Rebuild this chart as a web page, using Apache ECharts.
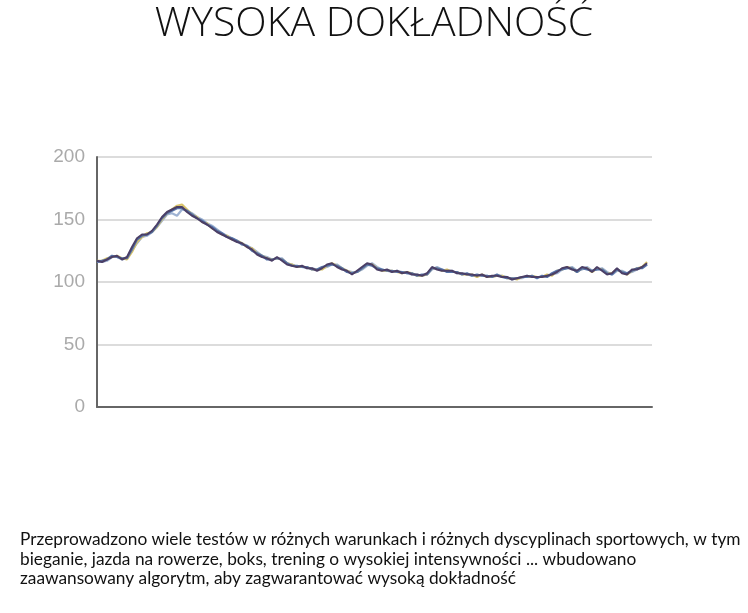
<!DOCTYPE html>
<html><head><meta charset="utf-8">
<script src="https://cdn.jsdelivr.net/npm/echarts@6/dist/echarts.min.js"></script>
<style>html,body{margin:0;padding:0;background:#fff}#c{width:748px;height:613px}</style>
</head><body><div id="c"></div>
<script>
var titleText = 'WYSOKA DOKŁADNOŚĆ';
var descLines = [
  'Przeprowadzono wiele testów w różnych warunkach i różnych dyscyplinach sportowych, w tym',
  'bieganie, jazda na rowerze, boks, trening o wysokiej intensywności ... wbudowano',
  'zaawansowany algorytm, aby zagwarantować wysoką dokładność'
];
var yTicks = [0, 50, 100, 150, 200];
var seriesPurple = [117,116,118,120,121,118,120,128,135,138,138,141,146,152,156,158,160,160,156,153,151,148,146,143,140,138,136,134,132,131,128,126,122,120,119,117,120,117,114,113,112,113,111,111,109,111,114,115,112,110,109,106,109,112,115,114,110,109,110,108,109,107,108,106,106,105,107,112,110,109,109,109,107,107,106,106,105,106,104,105,105,104,104,102,103,104,105,104,104,104,105,106,108,111,112,110,109,112,111,108,112,109,106,107,111,107,106,110,110,112,115];
var seriesBlue   = [116,117,118,121,120,119,119,126,134,137,138,140,145,151,155,157,159,159,157,154,151,149,146,144,141,139,136,135,133,130,129,125,123,121,118,118,119,118,115,113,113,112,112,110,110,112,113,114,113,111,108,107,108,111,114,113,111,110,109,109,108,108,107,107,105,106,106,111,111,110,108,108,108,106,107,105,106,105,105,104,106,104,103,103,103,104,104,105,103,105,104,107,109,110,111,111,108,111,110,109,110,110,107,106,110,108,107,109,111,111,114];
var seriesYellow = [117,117,119,120,121,119,118,124,132,136,139,140,144,150,155,158,161,162,158,154,152,148,147,143,141,138,137,134,133,131,128,127,123,121,119,118,119,118,115,114,112,112,112,110,110,110,113,115,113,111,109,107,108,111,114,114,111,109,109,109,108,107,108,107,105,105,106,111,111,109,110,108,108,106,106,106,104,106,104,104,105,105,103,103,102,104,104,105,104,104,106,105,109,110,112,111,108,111,111,108,111,110,107,107,110,108,106,109,111,112,116];
var seriesLight  = [116,116,117,120,120,118,119,125,131,136,137,140,144,149,154,155,153,158,157,155,152,150,147,145,142,139,137,135,133,131,129,127,124,121,120,118,119,119,115,114,112,112,111,111,110,111,112,114,114,111,109,108,108,110,113,115,112,110,109,108,109,108,107,106,106,105,106,110,112,110,109,109,107,107,106,105,105,105,105,104,105,105,104,102,103,103,105,104,104,104,105,106,107,110,111,112,109,110,112,109,110,111,108,106,109,109,107,108,110,112,114];

var cats = [];
for (var i = 0; i < seriesPurple.length + 1; i++) cats.push(String(i));

var chart = echarts.init(document.getElementById('c'));
function mk(name, data, color, w, z) {
  return { name: name, type: 'line', data: data, symbol: 'none', smooth: false, z: z,
    lineStyle: { color: color, width: w }, itemStyle: { color: color } };
}
var graphics = [];
descLines.forEach(function (t, k) {
  graphics.push({ type: 'text', left: 20, top: 531 + k * 19.5,
    style: { text: t, font: '17.3px Lato, "Open Sans", sans-serif', fill: '#111' } });
});
chart.setOption({
  animation: false,
  backgroundColor: '#fff',
  title: { text: titleText, left: 'center', top: 4, padding: 0,
    textStyle: { fontFamily: '"Open Sans", "Noto Sans", sans-serif', fontWeight: 300, fontSize: 41, color: '#111' } },
  grid: { left: 97, right: 96, top: 157, bottom: 206 },
  xAxis: { type: 'category', data: cats, boundaryGap: false,
    axisLine: { lineStyle: { color: '#666', width: 2 } },
    axisTick: { show: false }, axisLabel: { show: false }, splitLine: { show: false } },
  yAxis: { type: 'value', min: yTicks[0], max: yTicks[yTicks.length - 1], interval: 50,
    axisLine: { show: true, lineStyle: { color: '#666', width: 2 } },
    axisTick: { show: false },
    axisLabel: { color: '#aaa', fontSize: 19, margin: 12, fontFamily: '"Liberation Sans", sans-serif' },
    splitLine: { lineStyle: { color: '#dcdcdc', width: 2 } } },
  series: [
    mk('jasna', seriesLight, '#9fb3d3', 2.2, 2),
    mk('żółta', seriesYellow, '#d8c36a', 2.2, 3),
    mk('niebieska', seriesBlue, '#5573a8', 2.2, 4),
    mk('fioletowa', seriesPurple, '#4b3f66', 2, 5)
  ],
  graphic: graphics
});
</script></body></html>
